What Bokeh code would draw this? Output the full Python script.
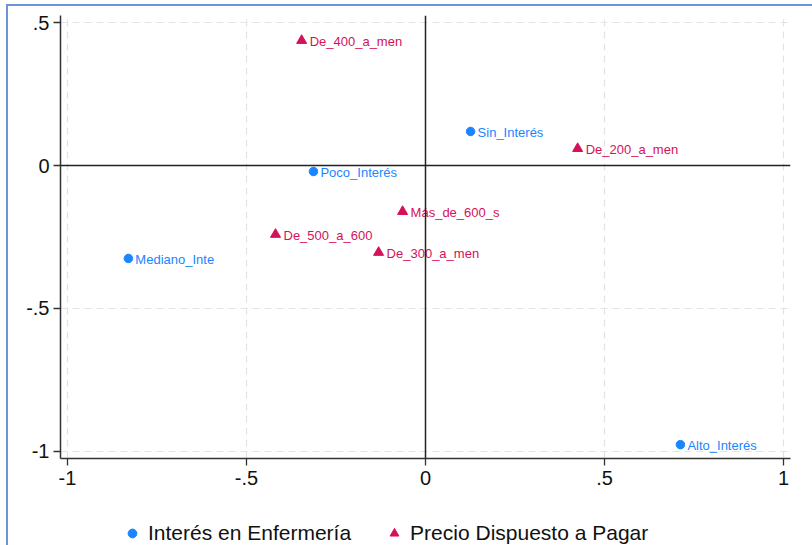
from bokeh.plotting import figure
from bokeh.layouts import column
from bokeh.models import (ColumnDataSource, FixedTicker, Span, Legend, LegendItem, Range1d)
from bokeh.core.properties import value
from bokeh.embed import file_html
from bokeh.resources import INLINE

# Interés en Enfermería (row categories)
int_labels = ["Sin_Interés", "Poco_Interés", "Mediano_Inte", "Alto_Interés"]
int_x = [0.126, -0.313, -0.830, 0.712]
int_y = [0.119, -0.021, -0.325, -0.976]

# Precio Dispuesto a Pagar (column categories)
pre_labels = ["De_400_a_men", "De_200_a_men", "Más_de_600_s", "De_500_a_600", "De_300_a_men"]
pre_x = [-0.346, 0.425, -0.064, -0.419, -0.131]
pre_y = [0.437, 0.059, -0.161, -0.241, -0.304]

x_ticks = [-1, -0.5, 0, 0.5, 1]
x_tick_labels = ["-1", "-.5", "0", ".5", "1"]
y_ticks = [0.5, 0, -0.5, -1]
y_tick_labels = [".5", "0", "-.5", "-1"]

legend_labels = ["Interés en Enfermería", "Precio Dispuesto a Pagar"]

BLUE = "#1a85ff"
RED = "#d41159"
FONT = "Liberation Sans"

p = figure(width=804, height=492, output_backend="svg", toolbar_location=None,
           x_range=Range1d(-1.0196, 1.0196), y_range=Range1d(-1.0245, 0.5245),
           min_border_left=52, min_border_right=22, min_border_top=9, min_border_bottom=40)
p.outline_line_color = None
p.background_fill_color = "white"
p.border_fill_color = "white"

# grids
p.xgrid.ticker = FixedTicker(ticks=[t for t in x_ticks if t != 0])
p.ygrid.ticker = FixedTicker(ticks=[t for t in y_ticks if t != 0])
for g in (p.xgrid, p.ygrid):
    g.grid_line_color = "#e3e3e3"
    g.grid_line_width = 1.2
    g.grid_line_dash = "7 5"

# axes
p.xaxis.ticker = FixedTicker(ticks=x_ticks)
p.yaxis.ticker = FixedTicker(ticks=y_ticks)
p.xaxis.major_label_overrides = {t: l for t, l in zip(x_ticks, x_tick_labels)}
p.yaxis.major_label_overrides = {t: l for t, l in zip(y_ticks, y_tick_labels)}
for ax in (p.xaxis, p.yaxis):
    ax.axis_line_color = "#333333"
    ax.axis_line_width = 1.5
    ax.major_tick_line_color = "#333333"
    ax.major_tick_line_width = 1.3
    ax.major_tick_out = 7
    ax.major_tick_in = 0
    ax.minor_tick_line_color = None
    ax.major_label_text_font = FONT
    ax.major_label_text_font_size = "20px"
    ax.major_label_text_color = "#111111"
p.xaxis.major_label_standoff = 5
p.yaxis.major_label_standoff = 4
p.yaxis.major_label_orientation = "horizontal"

# zero lines
p.add_layout(Span(location=0, dimension="width", line_color="#222222", line_width=1.5))
p.add_layout(Span(location=0, dimension="height", line_color="#222222", line_width=1.5))

src_i = ColumnDataSource(dict(x=int_x, y=int_y, label=int_labels))
src_p = ColumnDataSource(dict(x=pre_x, y=pre_y, label=pre_labels))

p.scatter("x", "y", source=src_i, marker="circle", size=8.5,
          fill_color=BLUE, line_color=BLUE)
p.scatter("x", "y", source=src_p, marker="triangle", size=10,
          fill_color=RED, line_color=RED)

p.text("x", "y", text="label", source=src_i, x_offset=7, y_offset=1,
       text_baseline="middle", text_align="left", text_color=BLUE,
       text_font=value(FONT), text_font_size="13px")
p.text("x", "y", text="label", source=src_p, x_offset=8, y_offset=1,
       text_baseline="middle", text_align="left", text_color=RED,
       text_font=value(FONT), text_font_size="13px")

# legend strip (separate figure, no axes; its glyphs lie outside its ranges)
lf = figure(width=804, height=47, output_backend="svg", toolbar_location=None,
            x_range=Range1d(10, 11), y_range=Range1d(10, 11),
            x_axis_location=None, y_axis_location=None,
            min_border_left=0, min_border_right=0, min_border_top=0, min_border_bottom=0)
lf.grid.visible = False
lf.outline_line_color = None
lf.background_fill_color = "white"
lf.border_fill_color = "white"
l_i = lf.scatter("x", "y", source=src_i, marker="circle", size=9,
                 fill_color=BLUE, line_color=BLUE)
l_p = lf.scatter("x", "y", source=src_p, marker="triangle", size=10,
                 fill_color=RED, line_color=RED)

legend = Legend(items=[LegendItem(label=legend_labels[0], renderers=[l_i]),
                       LegendItem(label=legend_labels[1], renderers=[l_p])],
                orientation="horizontal", location=(61, 0), margin=0,
                padding=0, spacing=32, label_standoff=5,
                glyph_width=22, glyph_height=22,
                border_line_color=None, background_fill_alpha=0,
                label_text_font=FONT, label_text_font_size="21px",
                label_text_color="#111111")
lf.add_layout(legend, "center")

layout = column(p, lf, spacing=0)
layout.styles = {"margin-left": "6px", "margin-top": "4px",
                 "border-top": "2px solid #6f93d8", "border-left": "2px solid #6f93d8"}

open("out.html", "w").write(file_html(layout, INLINE))
